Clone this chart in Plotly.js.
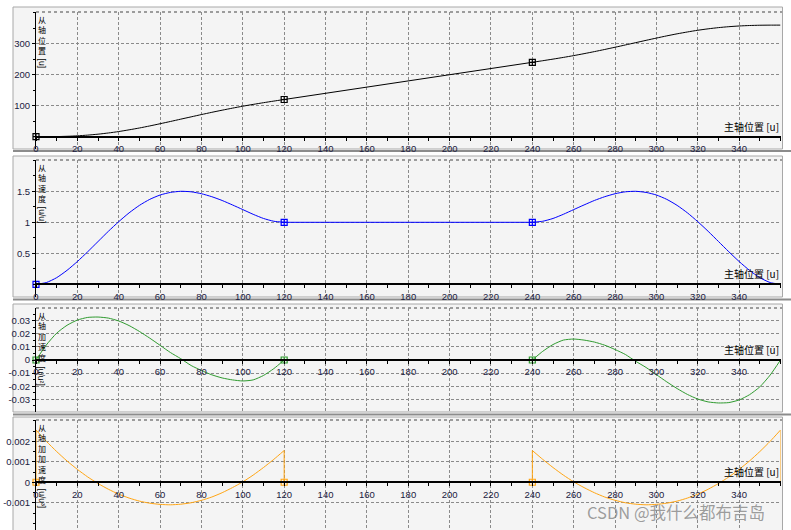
<!DOCTYPE html>
<html><head><meta charset="utf-8">
<script src="https://cdn.plot.ly/plotly-3.0.1.min.js"></script>
<style>html,body{margin:0;padding:0;background:#fff;}#chart{width:791px;height:530px;}</style>
</head><body><div id="chart"></div>
<script>
// ---------- data ----------
const master1 = [0,5,10,15,20,25,30,35,40,45,50,55,60,65,70,75,80,85,90,95,100,105,110,115,120];
const master3 = [240,245,250,255,260,265,270,275,280,285,290,295,300,305,310,315,320,325,330,335,340,345,350,355,360];
const keyMaster = [0,120,240,360];

const pos1 = [0,0.1,0.4,1.3,2.8,5.1,8.1,12.0,16.6,22.1,28.1,34.7,41.8,49.1,56.6,64.0,71.4,78.6,85.5,92.1,98.4,104.2,109.7,114.9,120];
const pos3 = [240,245.1,250.3,255.8,261.6,267.9,274.5,281.4,288.6,296.0,303.4,310.9,318.2,325.3,331.9,337.9,343.4,348.0,351.9,354.9,357.2,358.7,359.6,359.9,360];
const keyPos = [0,120,240,360];

const vel1 = [0,0.028,0.107,0.225,0.367,0.525,0.69,0.855,1.01,1.152,1.273,1.37,1.44,1.482,1.5,1.492,1.461,1.413,1.352,1.28,1.205,1.129,1.062,1.017,1.0];
const vel3 = [1.0,1.017,1.062,1.129,1.205,1.28,1.352,1.413,1.461,1.492,1.5,1.482,1.44,1.37,1.273,1.152,1.01,0.855,0.69,0.525,0.367,0.225,0.107,0.028,0];
const keyVel = [0,1,1,0];

const acc1 = [0,0.0115,0.0205,0.0265,0.0305,0.0325,0.0328,0.032,0.0298,0.0263,0.0218,0.0167,0.0112,0.0057,0.001,-0.0042,-0.008,-0.0113,-0.0137,-0.0152,-0.016,-0.0152,-0.0118,-0.0066,0];
const acc3 = [0,0.0066,0.0118,0.0152,0.016,0.0152,0.0137,0.0113,0.008,0.0042,-0.001,-0.0057,-0.0112,-0.0167,-0.0218,-0.0263,-0.0298,-0.032,-0.0328,-0.0325,-0.0305,-0.0265,-0.0205,-0.0115,0];
const keyAcc = [0,0,0,0];

const jerk1 = [0.00255,0.002,0.0015,0.00104,0.00063,0.00026,-0.00006,-0.00034,-0.00058,-0.00077,-0.00092,-0.00102,-0.00108,-0.0011,-0.00107,-0.001,-0.00088,-0.00072,-0.00051,-0.00026,0.00002,0.00035,0.00072,0.00112,0.00155];
const jerk3 = [0.00155,0.00112,0.00072,0.00035,0.00002,-0.00026,-0.00051,-0.00072,-0.00088,-0.001,-0.00107,-0.0011,-0.00108,-0.00102,-0.00092,-0.00077,-0.00058,-0.00034,-0.00006,0.00026,0.00063,0.00104,0.0015,0.002,0.00255];
const keyJerk = [0,0,0,0];

const xTickVals = [0,20,40,60,80,100,120,140,160,180,200,220,240,260,280,300,320,340];
const yTickVals1 = [100,200,300];
const yTickText1 = ['100','200','300'];
const yTickVals2 = [0.5,1,1.5];
const yTickText2 = ['0.5','1','1.5'];
const yTickVals3 = [0.03,0.02,0.01,0,-0.01,-0.02,-0.03];
const yTickText3 = ['0.03','0.02','0.01','0','-0.01','-0.02','-0.03'];
const yTickVals4 = [0.002,0.001,0,-0.001];
const yTickText4 = ['0.002','0.001','0','-0.001'];

const yTitles = ['从轴位置','从轴速度','从轴加速度','从轴加加速度'];
const yUnits = ['[u]','[u/u]','[u/u²]','[u/u³]'];
const xTitle = '主轴位置 [u]';
const watermark = 'CSDN @我什么都布吉岛';

// ---------- layout helpers ----------
const W = 791, H = 530;
const fx = px => px / W;
const fy = py => 1 - py / H;
const CJK = 'Noto Sans CJK SC, Noto Sans, sans-serif';
const NUM = 'Liberation Sans, Arial, sans-serif';

const panels = [
  {top:12, bottom:149, frameTop:7, frameBottom:149, range:[-39.7,402.3], color:'#000000',
   s1:pos1, s3:pos3, key:keyPos, tv:yTickVals1, tt:yTickText1, minor:50},
  {top:160, bottom:297, frameTop:156, frameBottom:297, range:[-0.205,2.005], color:'#0000ff',
   s1:vel1, s3:vel3, key:keyVel, tv:yTickVals2, tt:yTickText2, minor:0.25},
  {top:308, bottom:412, frameTop:304, frameBottom:412, range:[-0.0397,0.0397], color:'#2f9a2f',
   s1:acc1, s3:acc3, key:keyAcc, tv:yTickVals3, tt:yTickText3, minor:0.005},
  {top:420, bottom:530, frameTop:417, frameBottom:531, range:[-0.00233,0.00304], color:'#ffa514',
   s1:jerk1, s3:jerk3, key:keyJerk, tv:yTickVals4, tt:yTickText4, minor:0.0005}
];
const separators = [151, 299.5, 414.5];

const xL = 36, xR = 780.5;
const traces = [];
const layout = {
  width: W, height: H,
  margin: {l:0, r:0, t:0, b:0},
  paper_bgcolor: '#ffffff',
  plot_bgcolor: 'rgba(0,0,0,0)',
  showlegend: false,
  shapes: [], annotations: []
};

panels.forEach((p, i) => {
  const n = i === 0 ? '' : String(i + 1);
  const xa = 'x' + n, ya = 'y' + n;
  const d0 = fy(p.bottom), d1 = fy(p.top);
  const zeroPos = d0 + (0 - p.range[0]) / (p.range[1] - p.range[0]) * (d1 - d0);

  layout['xaxis' + n] = {
    domain: [fx(xL), fx(xR)], range: [0, 359.99], anchor: 'free', position: zeroPos,
    showline: true, linecolor: '#000', linewidth: 2,
    tickmode: 'array', tickvals: xTickVals, ticktext: xTickVals.map(String),
    ticks: 'outside', ticklen: 3, tickcolor: '#000', tickwidth: 1,
    minor: {dtick: 10, tick0: 0, ticks: 'outside', ticklen: 3, tickcolor: '#000', showgrid: false},
    showgrid: true, gridcolor: '#8a8a8a', gridwidth: 1, griddash: '3px,2px',
    zeroline: false, fixedrange: true,
    tickfont: {family: NUM, size: 9.5, color: '#202040'}
  };
  layout['yaxis' + n] = {
    domain: [d0, d1], range: p.range, anchor: xa,
    showline: true, linecolor: '#000', linewidth: 1,
    tickmode: 'array', tickvals: p.tv, ticktext: p.tt,
    ticks: 'outside', ticklen: 3, tickcolor: '#000',
    minor: {dtick: p.minor, ticks: 'outside', ticklen: 2, tickcolor: '#000', showgrid: false},
    showgrid: true, gridcolor: '#8a8a8a', gridwidth: 1, griddash: '3px,2px',
    zeroline: false, fixedrange: true,
    tickfont: {family: NUM, size: 9.5, color: '#202040'}
  };

  // panel frame
  layout.shapes.push({type:'rect', xref:'paper', yref:'paper', layer:'below',
    x0: fx(13), x1: fx(782.5), y0: fy(p.frameBottom), y1: fy(p.frameTop),
    fillcolor:'#f4f4f4', line:{color:'#a8a8a8', width:1}});
  // dotted top of plot area
  layout.shapes.push({type:'line', xref:'paper', yref:'paper', layer:'below',
    x0: fx(xL), x1: fx(782), y0: d1, y1: d1, line:{color:'#444', width:1, dash:'dot'}});

  const lineStyle = {color: p.color, width: 1};
  traces.push({x: master1, y: p.s1, xaxis: xa, yaxis: ya, mode: 'lines', hoverinfo: 'skip',
    line: Object.assign({shape: 'spline', smoothing: 0.6}, lineStyle)});
  traces.push({x: [keyMaster[1], keyMaster[2]], y: [p.key[1], p.key[2]], xaxis: xa, yaxis: ya,
    mode: 'lines', hoverinfo: 'skip', line: lineStyle});
  traces.push({x: master3, y: p.s3, xaxis: xa, yaxis: ya, mode: 'lines', hoverinfo: 'skip',
    line: Object.assign({shape: 'spline', smoothing: 0.6}, lineStyle)});
  if (i === 3) {
    // jumps of the jerk at the segment boundaries
    traces.push({x: [keyMaster[0], master1[0]], y: [p.key[0], p.s1[0]], xaxis: xa, yaxis: ya, mode: 'lines', line: lineStyle, hoverinfo: 'skip', cliponaxis: false});
    traces.push({x: [master1[master1.length-1], keyMaster[1]], y: [p.s1[p.s1.length-1], p.key[1]], xaxis: xa, yaxis: ya, mode: 'lines', line: lineStyle, hoverinfo: 'skip'});
    traces.push({x: [keyMaster[2], master3[0]], y: [p.key[2], p.s3[0]], xaxis: xa, yaxis: ya, mode: 'lines', line: lineStyle, hoverinfo: 'skip'});
    traces.push({x: [master3[master3.length-1], keyMaster[3]], y: [p.s3[p.s3.length-1], p.key[3]], xaxis: xa, yaxis: ya, mode: 'lines', line: lineStyle, hoverinfo: 'skip', cliponaxis: false});
  }
  traces.push({x: keyMaster, y: p.key, xaxis: xa, yaxis: ya, mode: 'markers', hoverinfo: 'skip',
    cliponaxis: false,
    marker: {symbol: 'square-cross-open', size: 6, color: p.color, line: {color: p.color, width: 1.2}}});

  // x-axis title
  layout.annotations.push({xref:'paper', yref:'paper', x: fx(781), y: zeroPos,
    xanchor:'right', yanchor:'bottom', yshift: 1, showarrow:false, text: xTitle,
    font:{family: CJK, size: 10, color:'#000'}});

  // vertical y-axis title (stacked characters in one text)
  const chars = Array.from(yTitles[i]);
  const fs = 8;
  const pitch = fs * 1.3;
  layout.annotations.push({xref:'paper', yref:'paper', x: fx(41.5), y: fy(p.top),
    xanchor:'center', yanchor:'top', showarrow:false, text: chars.join('<br>'),
    font:{family: CJK, size: fs, color:'#000'}});
  const uLen = yUnits[i].length * 4.3;
  layout.annotations.push({xref:'paper', yref:'paper', x: fx(41.5),
    y: fy(p.top + chars.length * pitch + 3 + uLen / 2),
    xanchor:'center', yanchor:'middle', showarrow:false, text: yUnits[i], textangle: 90,
    font:{family: NUM, size: 8.5, color:'#000'}});
});

// separators between panels
separators.forEach(s => {
  layout.shapes.push({type:'line', xref:'paper', yref:'paper', layer:'below',
    x0: fx(13), x1: 1, y0: fy(s), y1: fy(s), line:{color:'#8c8c8c', width:2}});
});

// watermark
layout.annotations.push({xref:'paper', yref:'paper', x: fx(676), y: fy(512),
  xanchor:'center', yanchor:'middle', showarrow:false, text: watermark,
  font:{family: CJK, size: 16.5, color:'rgba(140,140,140,0.85)'}});

Plotly.newPlot('chart', traces, layout, {displayModeBar: false, staticPlot: true});
</script>
</body></html>
